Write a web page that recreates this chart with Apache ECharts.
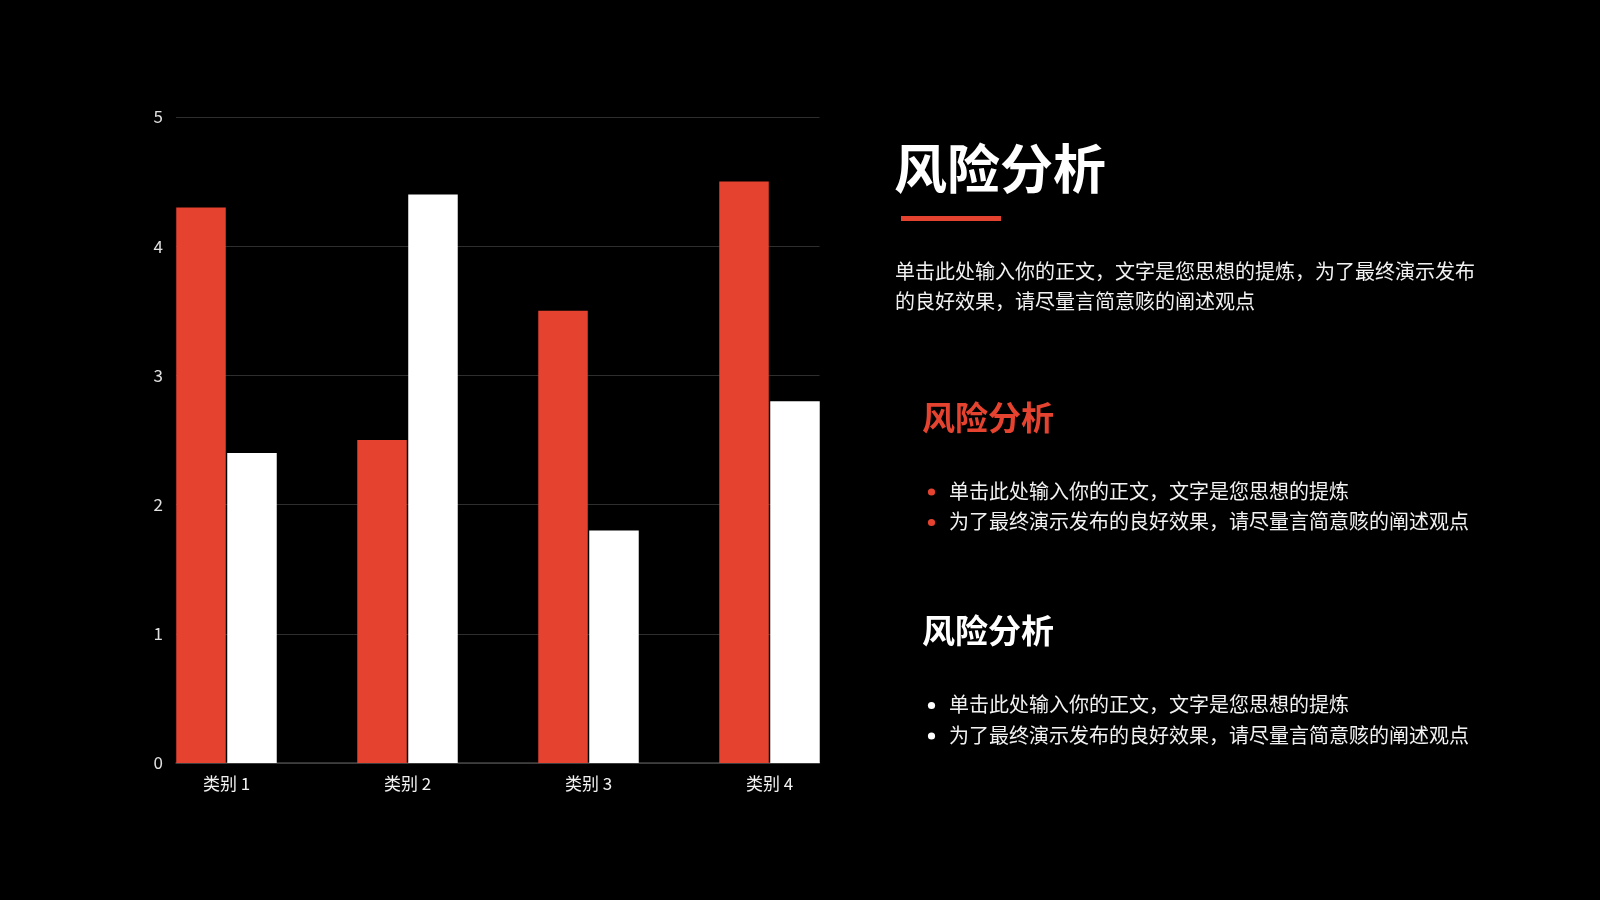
<!DOCTYPE html>
<html>
<head>
<meta charset="utf-8">
<title>风险分析</title>
<script src="https://cdn.jsdelivr.net/npm/echarts@6/dist/echarts.min.js"></script>
<style>
html, body { margin: 0; padding: 0; background: #000; }
#main { width: 1600px; height: 900px; }
</style>
</head>
<body>
<div id="main"></div>
<script type="text/javascript">
// 数据
var categories = ['类别 1', '类别 2', '类别 3', '类别 4'];
var series1 = [4.3, 2.5, 3.5, 4.5];
var series2 = [2.4, 4.4, 1.8, 2.8];
var yTicks = [0, 1, 2, 3, 4, 5];

var titleText = '风险分析';
var introLines = [
    '单击此处输入你的正文，文字是您思想的提炼，为了最终演示发布',
    '的良好效果，请尽量言简意赅的阐述观点'
];
var bulletLines = [
    '单击此处输入你的正文，文字是您思想的提炼',
    '为了最终演示发布的良好效果，请尽量言简意赅的阐述观点'
];

var RED = '#e5432f';
var FONT = '"Noto Sans CJK SC", "Noto Sans", sans-serif';

var chart = echarts.init(document.getElementById('main'));

// 右侧文字
function textEl(x, y, str, size, color, weight) {
    return {
        type: 'text', left: x, top: y - size * 0.5,
        style: { text: str, fill: color, font: (weight || 'normal') + ' ' + size + 'px ' + FONT }
    };
}
function bulletBlock(headY, headColor, dotColor) {
    var els = [textEl(922, headY, titleText, 33, headColor, 'bold')];
    bulletLines.forEach(function (line, i) {
        var y = headY + 74 + i * 30.5;
        els.push({ type: 'circle', shape: { cx: 931.5, cy: y + 1, r: 3.6 }, style: { fill: dotColor } });
        els.push(textEl(949, y, line, 20, '#f2f2f2'));
    });
    return els;
}

var graphics = [
    textEl(894, 169, titleText, 53, '#ffffff', 'bold'),
    { type: 'rect', shape: { x: 901, y: 216, width: 100, height: 5 }, style: { fill: RED } }
];
introLines.forEach(function (line, i) {
    graphics.push(textEl(895, 271.5 + i * 30, line, 20, '#f2f2f2'));
});
graphics = graphics.concat(bulletBlock(417, RED, RED), bulletBlock(630.5, '#ffffff', '#ffffff'));

var option = {
    backgroundColor: '#000',
    animation: false,
    textStyle: { fontFamily: FONT },
    grid: [
        { left: 176, right: 780.5, top: 117, bottom: 137 },
        { left: 136, width: 724, top: 117, bottom: 137 }
    ],
    xAxis: [
        {
            gridIndex: 0, type: 'value', min: 0, max: 1,
            axisLine: { show: true, lineStyle: { color: '#444', width: 1.5 } },
            axisTick: { show: false }, axisLabel: { show: false }, splitLine: { show: false }
        },
        {
            gridIndex: 1, type: 'category', data: categories,
            axisLine: { show: false }, axisTick: { show: false },
            axisLabel: { color: '#f2f2f2', fontSize: 17, margin: 12 }
        }
    ],
    yAxis: [
        {
            gridIndex: 0, type: 'value', min: yTicks[0], max: yTicks[yTicks.length - 1], interval: 1,
            axisLine: { show: false }, axisTick: { show: false },
            axisLabel: { color: '#e0e0e0', fontSize: 17, margin: 13 },
            splitLine: { lineStyle: { color: '#2e2e2e', width: 1.2 } }
        },
        {
            gridIndex: 1, type: 'value', min: 0, max: 5, show: false, splitLine: { show: false }
        }
    ],
    series: [
        {
            name: '系列 1', type: 'bar', xAxisIndex: 1, yAxisIndex: 1,
            data: series1, barWidth: 49.5, barGap: '3%',
            itemStyle: { color: RED }
        },
        {
            name: '系列 2', type: 'bar', xAxisIndex: 1, yAxisIndex: 1,
            data: series2, barWidth: 49.5, barGap: '3%',
            itemStyle: { color: '#ffffff' }
        }
    ],
    graphic: graphics
};

chart.setOption(option);
</script>
</body>
</html>
